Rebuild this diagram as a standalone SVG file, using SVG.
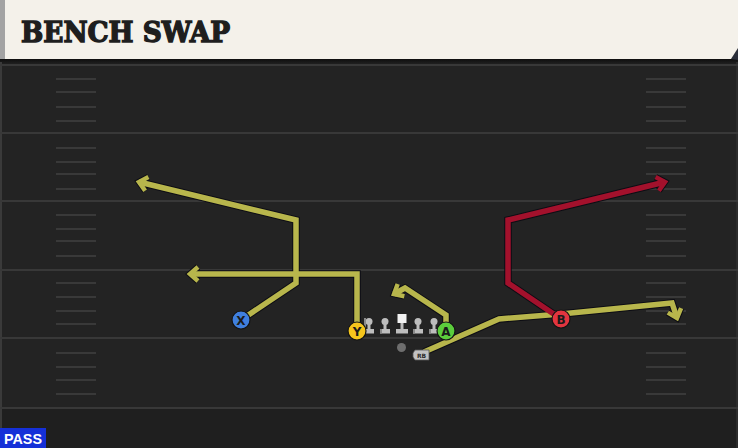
<svg xmlns="http://www.w3.org/2000/svg" width="738" height="448" viewBox="0 0 738 448">
<style>
.yl{stroke:#383838;stroke-width:2;fill:none}
.hm{stroke:#393939;stroke-width:2;fill:none}
.ol{fill:none;stroke:#0d0d14;stroke-width:7.5;stroke-linejoin:miter;stroke-linecap:butt}
.ry{fill:none;stroke:#b8b64c;stroke-width:5.5;stroke-linejoin:miter;stroke-linecap:butt}
.rr{fill:none;stroke:#a3112c;stroke-width:5.5;stroke-linejoin:miter;stroke-linecap:butt}
.pc{stroke:#141414;stroke-width:1.2}
.pl{font-family:"DejaVu Sans","Liberation Sans",sans-serif;font-weight:bold;font-size:12px;fill:#1a1a1a;text-anchor:middle}
.ln{fill:#bdbdbd}
</style>
<defs>
<marker id="ao" markerUnits="userSpaceOnUse" viewBox="-12 -12 24 24" markerWidth="24" markerHeight="24" refX="0" refY="0" orient="auto" overflow="visible">
<path d="M-8,-7 L0,0 L-8,7" fill="none" stroke="#0d0d14" stroke-width="6.5"/>
</marker>
<marker id="ay" markerUnits="userSpaceOnUse" viewBox="-12 -12 24 24" markerWidth="24" markerHeight="24" refX="0" refY="0" orient="auto" overflow="visible">
<path d="M-8,-7 L0,0 L-8,7" fill="none" stroke="#b8b64c" stroke-width="4.5"/>
</marker>
<marker id="ar" markerUnits="userSpaceOnUse" viewBox="-12 -12 24 24" markerWidth="24" markerHeight="24" refX="0" refY="0" orient="auto" overflow="visible">
<path d="M-8,-7 L0,0 L-8,7" fill="none" stroke="#a3112c" stroke-width="4.5"/>
</marker>
<linearGradient id="shadow" x1="0" y1="0" x2="0" y2="1">
<stop offset="0" stop-color="#0e0e0e"/>
<stop offset="1" stop-color="#232323"/>
</linearGradient>
</defs>
<!-- field -->
<rect x="0" y="0" width="738" height="448" fill="#232323"/>
<rect x="0" y="408" width="738" height="40" fill="#1f1f1f"/>
<rect x="0" y="59" width="738" height="6" fill="url(#shadow)"/>
<rect x="0" y="62" width="2" height="386" fill="#3a3a3a"/>
<rect x="736" y="62" width="2" height="386" fill="#2c2c2c"/>
<g id="field-lines">
<path class="yl" d="M0,65H738M0,133H738M0,201H738M0,270H738M0,338H738M0,408H738"/>
<path class="hm" d="M56,79H96M56,92H96M56,107H96M56,121H96M56,148H96M56,162H96M56,174H96M56,189H96M56,215H96M56,229H96M56,241H96M56,256H96M56,283H96M56,297H96M56,311H96M56,324H96M56,353H96M56,367H96M56,380H96M56,394H96"/>
<path class="hm" d="M646,79H686M646,92H686M646,107H686M646,121H686M646,148H686M646,162H686M646,174H686M646,189H686M646,215H686M646,229H686M646,241H686M646,256H686M646,283H686M646,297H686M646,311H686M646,324H686M646,353H686M646,367H686M646,380H686M646,394H686"/>
</g>
<!-- header -->
<g id="header">
<polygon points="731,59 738,48 738,60" fill="#2b2f3a"/>
<polygon points="0,0 738,0 738,48 731,59 0,59" fill="#f4f1ea"/>
<rect x="0" y="0" width="5" height="59" fill="#a3a3a3"/>
<text x="21" y="42" font-family="'DejaVu Serif','Liberation Serif',serif" font-weight="bold" font-size="27" fill="#1e1e1e" stroke="#1e1e1e" stroke-width="1.4" stroke-linejoin="miter" textLength="209" lengthAdjust="spacingAndGlyphs">BENCH SWAP</text>
</g>
<!-- connectors -->
<g id="connectors">
<path class="ol" d="M241,320 L296,283 L296,220 L139,182" marker-end="url(#ao)"/>
<path class="ol" d="M357,331 L357,274 L190,274" marker-end="url(#ao)"/>
<path class="ol" d="M446,331 L446,315 L405,288 L394,294" marker-end="url(#ao)"/>
<path class="ol" d="M424,352 L499,319 L561,314 L672,303 L677,318" marker-end="url(#ao)"/>
<path class="ol" d="M561,319 L508,283 L508,220 L665,182" marker-end="url(#ao)"/>
<path class="ry" d="M241,320 L296,283 L296,220 L139,182" marker-end="url(#ay)"/>
<path class="ry" d="M357,331 L357,274 L190,274" marker-end="url(#ay)"/>
<path class="ry" d="M446,331 L446,315 L405,288 L394,294" marker-end="url(#ay)"/>
<path class="ry" d="M424,352 L499,319 L561,314 L672,303 L677,318" marker-end="url(#ay)"/>
<path class="rr" d="M561,319 L508,283 L508,220 L665,182" marker-end="url(#ar)"/>
</g>
<!-- linemen -->
<g id="LT"><circle class="ln" cx="369" cy="321.5" r="3.5"/><rect class="ln" x="367.5" y="322" width="3" height="8"/><rect class="ln" x="364" y="329" width="10" height="4.5"/><rect x="364" y="318" width="2" height="15" fill="#8a8a8a"/></g>
<g id="LG"><circle class="ln" cx="385" cy="321.5" r="3.5"/><rect class="ln" x="383.5" y="322" width="3" height="8"/><rect class="ln" x="380" y="329" width="10" height="4.5"/><rect x="380" y="329" width="2" height="4.5" fill="#8a8a8a"/></g>
<g id="C"><rect x="397.5" y="314" width="9" height="9" fill="#f2f2f2"/><rect class="ln" x="400.5" y="323" width="3" height="7"/><rect class="ln" x="396" y="329" width="12" height="4.5"/></g>
<g id="RG"><circle class="ln" cx="418" cy="321.5" r="3.5"/><rect class="ln" x="416.5" y="322" width="3" height="8"/><rect class="ln" x="413" y="329" width="10" height="4.5"/><rect x="413" y="329" width="2" height="4.5" fill="#8a8a8a"/></g>
<g id="RT"><circle class="ln" cx="434" cy="321.5" r="3.5"/><rect class="ln" x="432.5" y="322" width="3" height="8"/><rect class="ln" x="429" y="329" width="10" height="4.5"/><rect x="429" y="329" width="2" height="4.5" fill="#8a8a8a"/></g>
<g id="QB"><circle cx="401.5" cy="347.5" r="4.5" fill="#6e6e6e"/></g>
<g id="RB">
<path d="M415,350 H429 V360 H415 L413,357 V353 Z" fill="#c2c2c2" stroke="#555" stroke-width="0.8"/>
<text x="421.5" y="358" font-family="'DejaVu Sans','Liberation Sans',sans-serif" font-weight="bold" font-size="6" fill="#2a2a2a" text-anchor="middle">RB</text>
</g>
<!-- receivers -->
<g id="X"><circle class="pc" cx="241" cy="320" r="9" fill="#3f7fde"/><text class="pl" x="241" y="324.5">X</text></g>
<g id="Y"><circle class="pc" cx="357" cy="331" r="9" fill="#f5c51c"/><text class="pl" x="357" y="335.5">Y</text></g>
<g id="A"><circle class="pc" cx="446" cy="331" r="9" fill="#5ccd3c"/><text class="pl" x="446" y="335.5">A</text></g>
<g id="B"><circle class="pc" cx="561" cy="319" r="9" fill="#e2353f"/><text class="pl" x="561" y="323.5">B</text></g>
<!-- pass tag -->
<g id="pass">
<rect x="0" y="428" width="46" height="20" fill="#1530d8"/>
<text x="23" y="444" font-family="'Liberation Sans','DejaVu Sans',sans-serif" font-size="15" font-weight="bold" fill="#ffffff" text-anchor="middle" textLength="38" lengthAdjust="spacingAndGlyphs">PASS</text>
</g>
</svg>
